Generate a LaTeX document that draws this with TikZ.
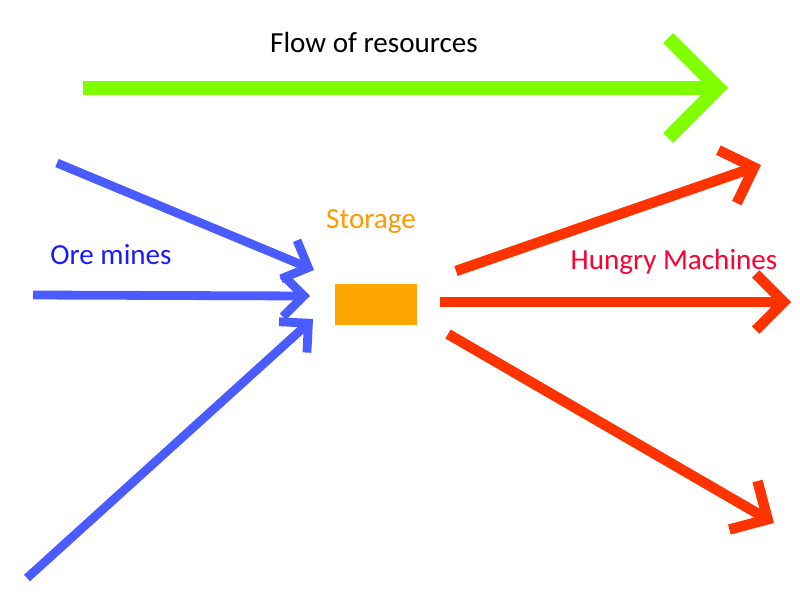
\documentclass[tikz,border=0pt]{standalone}
\usepackage{fontspec}
\setmainfont{Carlito}
\usepackage{tikz}
\usetikzlibrary{arrows.meta,positioning}
\definecolor{flowc}{HTML}{7FFF00}
\definecolor{orec}{HTML}{4A5CFF}
\definecolor{oretxt}{HTML}{1A1AFF}
\definecolor{storec}{HTML}{FFA500}
\definecolor{storetxt}{HTML}{FF9900}
\definecolor{machc}{HTML}{FF3300}
\definecolor{machtxt}{HTML}{FF0033}
\tikzset{
  flow/.style={draw=flowc,line width=0.35cm,-{Straight Barb[length=1.25cm,width=2.5cm]}},
  feed/.style={draw=orec,line width=0.22cm,-{Straight Barb[length=0.52cm,width=1.04cm]}},
  drain/.style={draw=machc,line width=0.26cm,-{Straight Barb[length=0.7cm,width=1.4cm]}},
  lab/.style={font=\fontsize{20.7}{24}\selectfont,inner sep=0pt},
}
\begin{document}
\begin{tikzpicture}[x=0.025cm,y=-0.025cm]
\useasboundingbox (0,0) rectangle (800,600);
% flow direction
\node[lab] (title) at (374,42) {Flow of resources};
\coordinate (fa) at (83,88);
\coordinate (fb) at (728,88);
\draw[flow] (fa) -- (fb);
% storage
\node[fill=storec,minimum width=2.05cm,minimum height=1.025cm,inner sep=0pt] (store) at (376,304.5) {};
\node[lab,text=storetxt] (storelab) at (371,222) {Storage};
% ore mines
\node[lab,text=oretxt] (minelab) at (111,255) {Ore mines};
\coordinate (m1) at (57,163);
\coordinate (m2) at (33,295);
\coordinate (m3) at (27,578);
\coordinate (i1) at (314,270);
\coordinate (i2) at (310,296);
\coordinate (i3) at (313,319);
\draw[feed] (m1) -- (i1);
\draw[feed] (m2) -- (i2);
\draw[feed] (m3) -- (i3);
% machines
\node[lab,text=machtxt] (machlab) at (674,262) {Hungry Machines};
\coordinate (o1) at (456,271);
\coordinate (o2) at (440,302);
\coordinate (o3) at (448,334);
\coordinate (h1) at (761,165);
\coordinate (h2) at (791,302);
\coordinate (h3) at (774,523);
\draw[drain] (o1) -- (h1);
\draw[drain] (o2) -- (h2);
\draw[drain] (o3) -- (h3);
\end{tikzpicture}
\end{document}
